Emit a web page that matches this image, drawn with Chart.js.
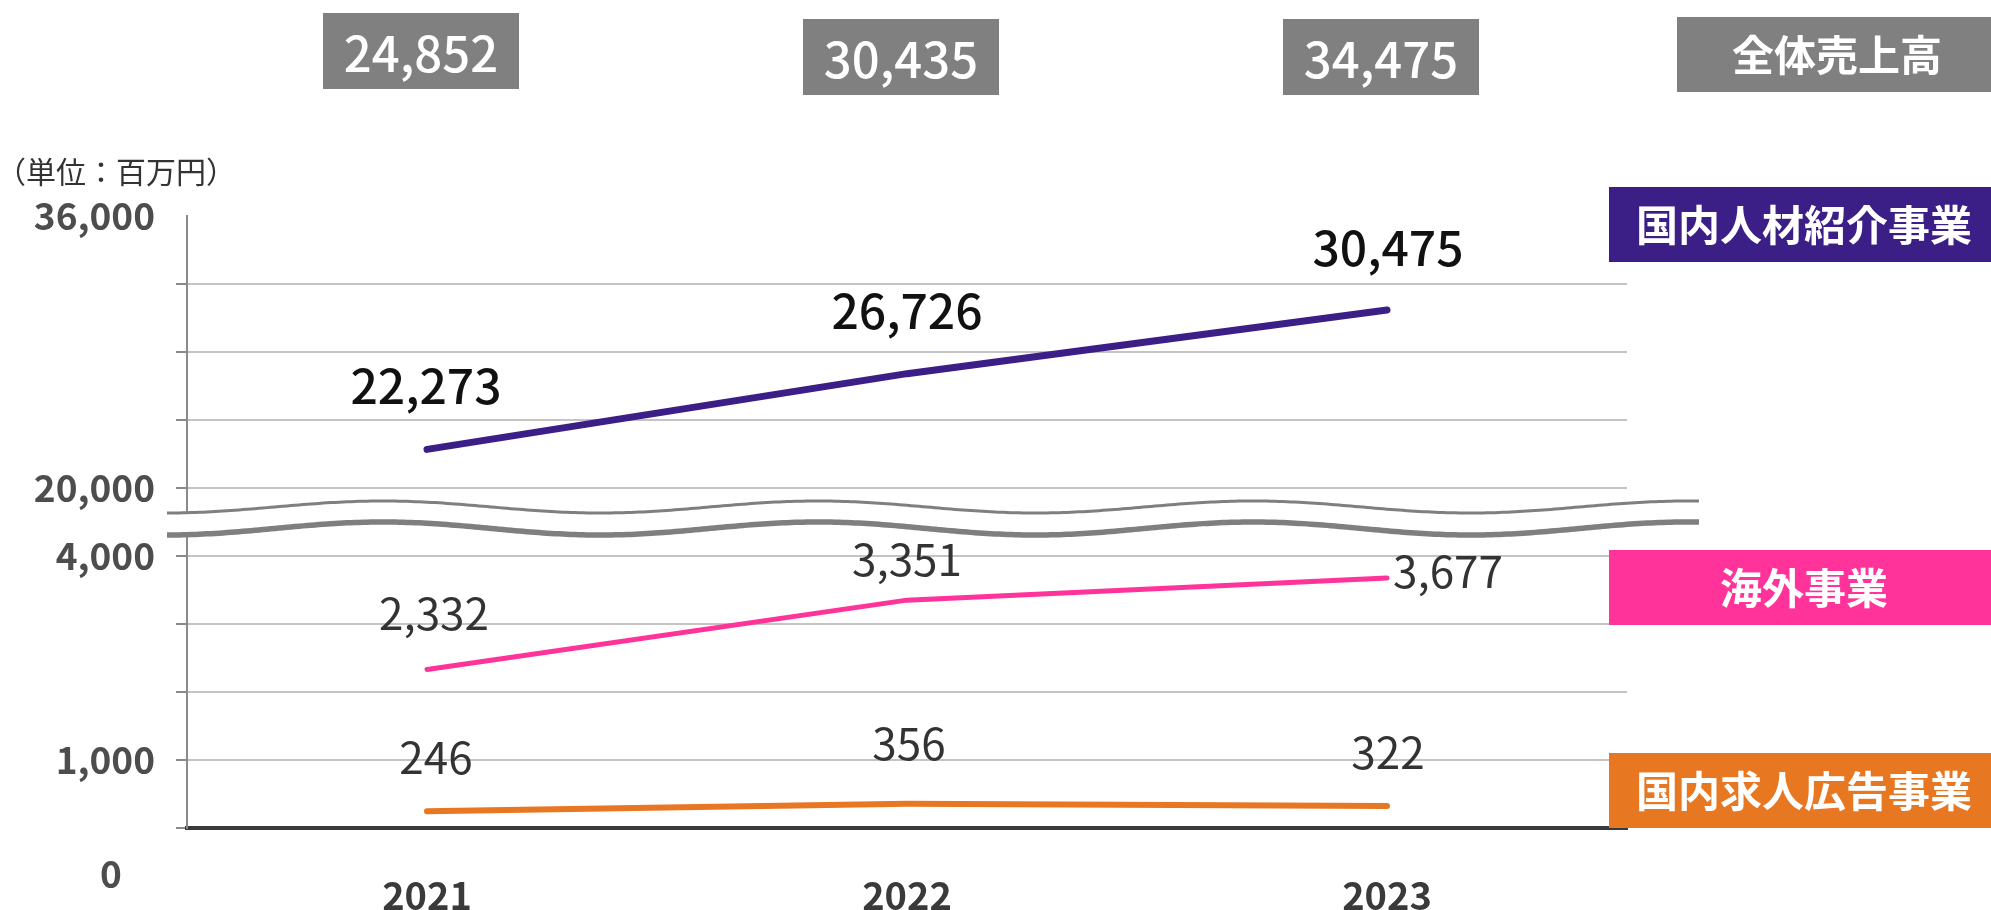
<!DOCTYPE html>
<html lang="ja">
<head>
<meta charset="utf-8">
<title>売上高推移</title>
<script src="https://cdn.jsdelivr.net/npm/chart.js@4.4.0/dist/chart.umd.min.js"></script>
<style>
  html, body { margin: 0; padding: 0; background: #fff; }
  #wrap { width: 1991px; height: 910px; }
</style>
</head>
<body>
<div id="wrap"><canvas id="salesChart" width="1991" height="910"></canvas></div>
<script>
// data (unit: million yen)
var years = ['2021', '2022', '2023'];
var totalSales = [24852, 30435, 34475];
var domesticRecruit = [22273, 26726, 30475];
var overseas = [2332, 3351, 3677];
var domesticAds = [246, 356, 322];
var yTickValues = [0, 1000, 4000, 20000, 36000];

var seriesNames = ['国内人材紹介事業', '海外事業', '国内求人広告事業'];
var seriesColors = ['#3c1e87', '#ff3399', '#e87722'];
var FONT = '"Noto Sans CJK JP", "Noto Sans", sans-serif';

// broken axis: 0-4,000 under the break (1 unit = 1,000), 20,000-36,000 above it (1 unit = 4,000)
function toAxis(v) {
    if (v <= 4000) return v / 1000;
    return 5 + (v - 20000) / 4000;
}

function fmt(v) {
    return v.toLocaleString('en-US');
}

// label placement, per series / per point
var labelStyle = [
    { font: '500 48px ' + FONT, color: '#111', dy: [-64, -63, -62], dx: [-1, 0, 1] },
    { font: '400 44px ' + FONT, color: '#333', dy: [-56, -41, -7], dx: [7, 0, 6], rightLast: true },
    { font: '400 44px ' + FONT, color: '#333', dy: [-54, -61, -54], dx: [9, 2, 1] }
];

var decorPlugin = {
    id: 'decor',
    afterDraw: function (chart) {
        var ctx = chart.ctx;
        var x = chart.scales.x, y = chart.scales.y;
        var area = chart.chartArea;
        ctx.save();

        // axis break waves
        var mid = y.getPixelForValue(4.5);
        var x0 = area.left - 20, x1 = area.right + 72;
        var period = 435, peak = area.left + 196;
        function wave(cy, amp) {
            var pts = [];
            for (var px = x0; px <= x1; px += 4) {
                pts.push([px, cy - amp * Math.cos(2 * Math.PI * (px - peak) / period)]);
            }
            return pts;
        }
        var top = wave(mid - 15, 6), bot = wave(mid + 6.5, 6.5);
        ctx.beginPath();
        top.forEach(function (p, i) { i ? ctx.lineTo(p[0], p[1]) : ctx.moveTo(p[0], p[1]); });
        for (var i = bot.length - 1; i >= 0; i--) ctx.lineTo(bot[i][0], bot[i][1]);
        ctx.closePath();
        ctx.fillStyle = '#fff';
        ctx.fill();
        ctx.strokeStyle = '#7f7f7f';
        [[top, 3], [bot, 5.5]].forEach(function (w) {
            ctx.beginPath();
            w[0].forEach(function (p, i) { i ? ctx.lineTo(p[0], p[1]) : ctx.moveTo(p[0], p[1]); });
            ctx.lineWidth = w[1];
            ctx.stroke();
        });

        // total sales boxes
        ctx.textAlign = 'center';
        ctx.textBaseline = 'middle';
        var boxTop = [13, 19, 19];
        totalSales.forEach(function (v, i) {
            var cx = x.getPixelForValue(i) - 6;
            ctx.fillStyle = '#808080';
            ctx.fillRect(cx - 98, boxTop[i], 196, 76);
            ctx.fillStyle = '#fff';
            ctx.font = '500 49px ' + FONT;
            ctx.fillText(fmt(v), cx, boxTop[i] + 40);
        });
        ctx.fillStyle = '#808080';
        ctx.fillRect(1677, 17, 314, 75);
        ctx.fillStyle = '#fff';
        ctx.font = 'bold 42px ' + FONT;
        ctx.fillText('全体売上高', 1837, 55);

        // series boxes on the right
        var boxTops = [187, 550, 753];
        seriesNames.forEach(function (name, i) {
            ctx.fillStyle = seriesColors[i];
            ctx.fillRect(1609, boxTops[i], 382, 75);
            ctx.fillStyle = '#fff';
            ctx.font = 'bold 42px ' + FONT;
            ctx.fillText(name, 1804, boxTops[i] + 38);
        });

        // value labels
        chart.data.datasets.forEach(function (ds, di) {
            var st = labelStyle[di];
            var meta = chart.getDatasetMeta(di);
            ctx.font = st.font;
            ctx.fillStyle = st.color;
            ds.raw.forEach(function (v, i) {
                var pt = meta.data[i];
                var right = st.rightLast && i === ds.raw.length - 1;
                ctx.textAlign = right ? 'left' : 'center';
                ctx.fillText(fmt(v), pt.x + st.dx[i], pt.y + st.dy[i]);
            });
        });

        // unit and the zero label
        ctx.textAlign = 'left';
        ctx.fillStyle = '#333';
        ctx.font = '400 30px ' + FONT;
        ctx.fillText('（単位：百万円）', -4, 172);
        ctx.textAlign = 'center';
        ctx.fillStyle = '#4d4d4d';
        ctx.font = 'bold 37px ' + FONT;
        ctx.fillText('0', 111, 874);
        ctx.restore();
    }
};

function gridColor(c) {
    var v = c.tick.value;
    return (v === 0 || v === 9) ? 'rgba(0,0,0,0)' : '#c4c4c4';
}

new Chart(document.getElementById('salesChart'), {
    type: 'line',
    data: {
        labels: years,
        datasets: [
            { label: seriesNames[0], raw: domesticRecruit, data: domesticRecruit.map(toAxis), borderColor: seriesColors[0], borderWidth: 7 },
            { label: seriesNames[1], raw: overseas, data: overseas.map(toAxis), borderColor: seriesColors[1], borderWidth: 5 },
            { label: seriesNames[2], raw: domesticAds, data: domesticAds.map(toAxis), borderColor: seriesColors[2], borderWidth: 6 }
        ]
    },
    options: {
        responsive: false,
        animation: false,
        devicePixelRatio: 1,
        layout: { padding: { top: 216, right: 364, left: 0, bottom: 0 } },
        elements: {
            line: { tension: 0, borderCapStyle: 'round', fill: false },
            point: { radius: 0 }
        },
        plugins: { legend: { display: false }, tooltip: { enabled: false } },
        scales: {
            x: {
                offset: true,
                grid: { display: false, drawTicks: false },
                border: { display: true, color: '#3a3a3a', width: 4 },
                ticks: { color: '#3a3a3a', font: { family: FONT, size: 38, weight: 'bold' }, padding: 45 },
                afterFit: function (s) { s.height = 82; }
            },
            y: {
                min: 0,
                max: 9,
                ticks: {
                    stepSize: 1,
                    autoSkip: false,
                    padding: 21,
                    color: '#4d4d4d',
                    font: { family: FONT, size: 37, weight: 'bold' },
                    callback: function (value) {
                        for (var i = 1; i < yTickValues.length; i++) {
                            if (toAxis(yTickValues[i]) === value) return fmt(yTickValues[i]);
                        }
                        return '';
                    }
                },
                grid: {
                    color: gridColor,
                    lineWidth: 2,
                    tickLength: 11,
                    tickWidth: 2,
                    tickColor: function (c) { return c.tick.value === 9 ? 'rgba(0,0,0,0)' : '#8a8a8a'; }
                },
                border: { display: true, color: '#8a8a8a', width: 2 },
                afterFit: function (s) { s.width = 187; }
            }
        }
    },
    plugins: [decorPlugin]
});
</script>
</body>
</html>
